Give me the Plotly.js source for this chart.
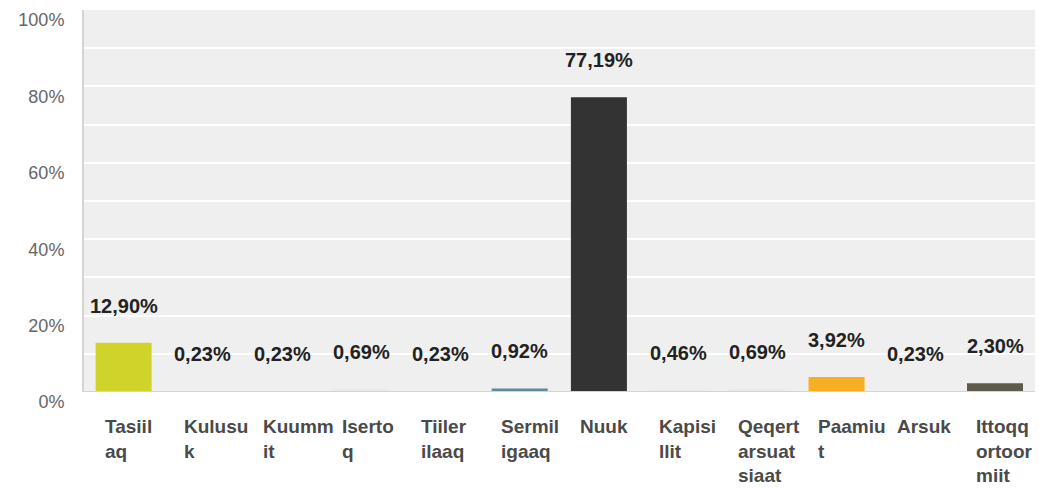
<!DOCTYPE html>
<html>
<head>
<meta charset="utf-8">
<script src="https://cdn.plot.ly/plotly-3.0.1.min.js"></script>
<style>html,body{margin:0;padding:0;background:#fff;}#chart{width:1039px;height:489px;}</style>
</head>
<body>
<div id="chart"></div>
<script>
// Data
var categories = ["Tasiilaq", "Kulusuk", "Kuummiit", "Isertoq", "Tiilerilaaq", "Sermiligaaq", "Nuuk", "Kapisillit", "Qeqertarsuatsiaat", "Paamiut", "Arsuk", "Ittoqqortoormiit"];
var tickLabels = ["Tasiil<br>aq", "Kulusu<br>k", "Kuumm<br>it", "Iserto<br>q", "Tiiler<br>ilaaq", "Sermil<br>igaaq", "Nuuk", "Kapisi<br>llit", "Qeqert<br>arsuat<br>siaat", "Paamiu<br>t", "Arsuk", "Ittoqq<br>ortoor<br>miit"];
var values = [12.90, 0.23, 0.23, 0.69, 0.23, 0.92, 77.19, 0.46, 0.69, 3.92, 0.23, 2.30];
var valueLabels = ["12,90%", "0,23%", "0,23%", "0,69%", "0,23%", "0,92%", "77,19%", "0,46%", "0,69%", "3,92%", "0,23%", "2,30%"];
var colors = ["#cfd32a", "#e9e9e9", "#e9e9e9", "#e9e9e9", "#e9e9e9", "#5e8b95", "#333333", "#e9e9e9", "#e9e9e9", "#f7ae22", "#e9e9e9", "#5e5b4b"];
var yTickVals = [0, 20, 40, 60, 80, 100];
var yTickText = ["0%", "20%", "40%", "60%", "80%", "100%"];

var font = "'Liberation Sans', Arial, Helvetica, sans-serif";

var annotations = [];
categories.forEach(function (c, i) {
  annotations.push({
    x: c, y: values[i], xref: 'x', yref: 'y',
    text: valueLabels[i], showarrow: false,
    xanchor: 'center', yanchor: 'middle', yshift: 37,
    font: {family: font, size: 20, color: '#222222', weight: 'bold'}
  });
  annotations.push({
    x: c, y: 0, xref: 'x', yref: 'paper',
    text: tickLabels[i], showarrow: false, align: 'left',
    xanchor: 'left', yanchor: 'top', xshift: -21, yshift: -22,
    font: {family: font, size: 19, color: '#4a4a4a', weight: 'bold'}
  });
});

var trace = {
  type: 'bar',
  x: categories,
  y: values,
  marker: {color: colors, line: {width: 0}},
  hoverinfo: 'none'
};

var layout = {
  width: 1039, height: 489,
  margin: {l: 84, r: 4, t: 10, b: 97},
  paper_bgcolor: '#ffffff',
  plot_bgcolor: '#efefef',
  bargap: 0.293,
  showlegend: false,
  xaxis: {
    type: 'category',
    showticklabels: false,
    showgrid: false,
    showline: false,
    zeroline: false,
    ticks: '',
    fixedrange: true
  },
  yaxis: {
    range: [0, 100],
    tickmode: 'array',
    tickvals: yTickVals,
    ticktext: yTickText,
    showgrid: true,
    gridcolor: '#ffffff',
    gridwidth: 2,
    minor: {dtick: 10, showgrid: true, gridcolor: '#ffffff', gridwidth: 2, ticks: ''},
    showline: true,
    linecolor: '#d4d4d4',
    linewidth: 2,
    zeroline: false,
    ticks: '',
    ticklabelstandoff: 14,
    ticklabelshift: 10,
    ticklabeloverflow: 'allow',
    tickfont: {family: font, size: 18, color: '#666666'},
    fixedrange: true
  },
  shapes: [{
    type: 'line', xref: 'paper', yref: 'y', x0: 0, x1: 1, y0: 0, y1: 0,
    line: {color: '#d4d4d4', width: 2}
  }],
  annotations: annotations
};

Plotly.newPlot('chart', [trace], layout, {displayModeBar: false, staticPlot: true});
</script>
</body>
</html>
